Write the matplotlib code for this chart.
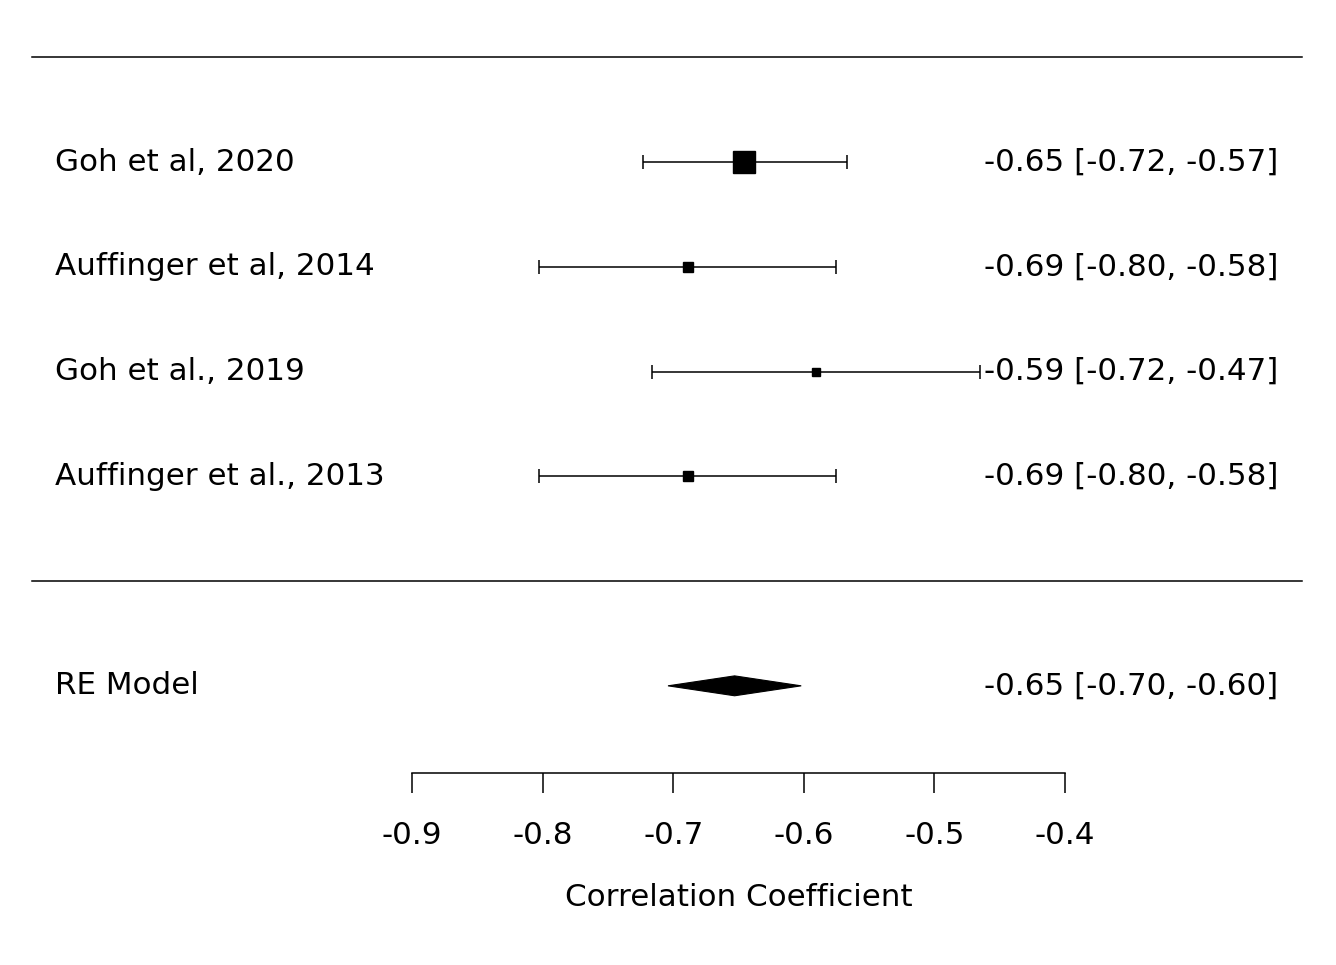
import matplotlib
matplotlib.use("Agg")
import matplotlib.pyplot as plt
from matplotlib.patches import Polygon

plt.rcParams['font.family'] = ['DejaVu Sans']

studies = ["Goh et al, 2020", "Auffinger et al, 2014", "Goh et al., 2019", "Auffinger et al., 2013"]
est = [-0.646, -0.689, -0.591, -0.689]
ci_lo = [-0.723, -0.803, -0.716, -0.803]
ci_hi = [-0.567, -0.575, -0.465, -0.575]
ci_text = ["-0.65 [-0.72, -0.57]", "-0.69 [-0.80, -0.58]", "-0.59 [-0.72, -0.47]", "-0.69 [-0.80, -0.58]"]
weights = [16.5, 7.2, 5.2, 7.2]  # marker side in points (relative weight)

re_label = "RE Model"
re_est, re_lo, re_hi = -0.653, -0.704, -0.602
re_text = "-0.65 [-0.70, -0.60]"

xticks = [-0.9, -0.8, -0.7, -0.6, -0.5, -0.4]
xlabel = "Correlation Coefficient"

fig = plt.figure(figsize=(13.36, 9.65), dpi=100)
ax = fig.add_axes([0, 0, 1, 1])
ax.set_xlim(-1.2155, -0.1925)
ax.set_ylim(-3.665, 5.547)

rows = [4, 3, 2, 1]
fs = 22.3

for y, name, e, lo, hi, t, w in zip(rows, studies, est, ci_lo, ci_hi, ci_text, weights):
    ax.errorbar([e], [y], xerr=[[e - lo], [hi - e]], fmt='none', ecolor='black',
                elinewidth=1.1, capsize=5, capthick=1.1)
    ax.plot([e], [y], marker='s', ms=w, color='black', linestyle='none')
    ax.text(0.041, y, name, transform=ax.get_yaxis_transform(), ha='left', va='center', fontsize=fs)
    ax.text(0.9566, y, t, transform=ax.get_yaxis_transform(), ha='right', va='center', fontsize=fs)

# RE model diamond
y_re = -1
h = 0.095
ax.add_patch(Polygon([(re_lo, y_re), (re_est, y_re + h), (re_hi, y_re), (re_est, y_re - h)],
                     closed=True, facecolor='black', edgecolor='black', lw=0.8))
ax.text(0.041, y_re, re_label, transform=ax.get_yaxis_transform(), ha='left', va='center', fontsize=fs)
ax.text(0.9566, y_re, re_text, transform=ax.get_yaxis_transform(), ha='right', va='center', fontsize=fs)

# separator lines
ax.axhline(5, xmin=0.024, xmax=0.9746, color='black', lw=1.1)
ax.axhline(0, xmin=0.024, xmax=0.9746, color='black', lw=1.1)

# axis
for s in ['left', 'top', 'right']:
    ax.spines[s].set_visible(False)
ax.spines['bottom'].set_position(('data', -1.83))
ax.spines['bottom'].set_bounds(xticks[0], xticks[-1])
ax.spines['bottom'].set_linewidth(1.1)
ax.set_xticks(xticks)
ax.set_xticklabels([f"{v:.1f}" for v in xticks])
ax.tick_params(axis='x', direction='out', length=14.5, width=1.1, pad=20, labelsize=fs)
ax.set_yticks([])
ax.set_xlabel(xlabel, fontsize=fs)
ax.xaxis.set_label_coords((-0.65 + 1.2155) / (1.2155 - 0.1925), (965 - 897) / 965)
ax.xaxis.label.set_va('center')

fig.savefig("out.png", dpi=100)
